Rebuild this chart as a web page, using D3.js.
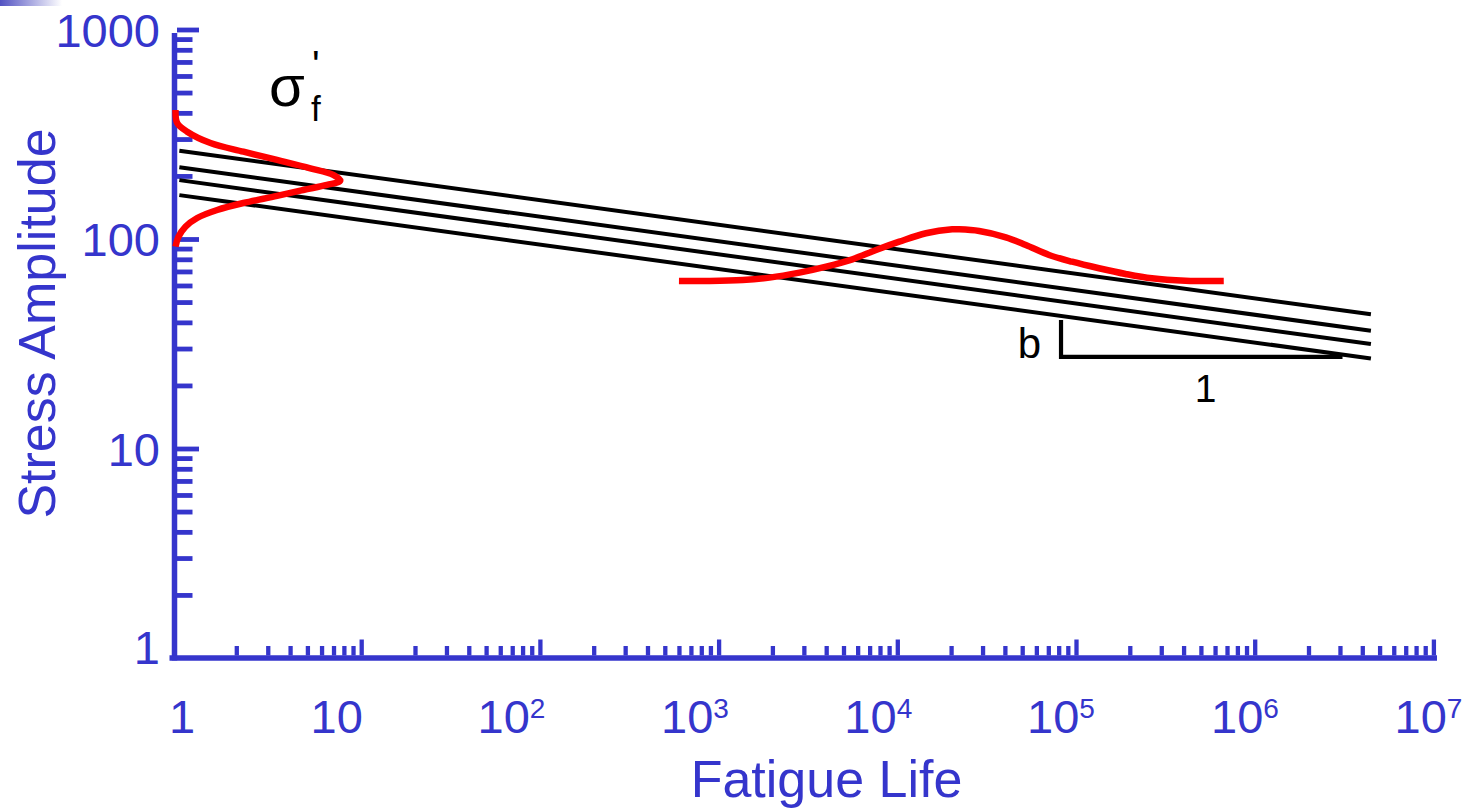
<!DOCTYPE html>
<html><head><meta charset="utf-8">
<script src="https://cdn.jsdelivr.net/npm/d3@7"></script>
<style>html,body{margin:0;padding:0;background:#fff}svg{display:block}</style>
</head><body>
<svg id="chart" width="1474" height="810"></svg>
<script>
// ---------- data ----------
const xTickValues = [1, 10, 100, 1e3, 1e4, 1e5, 1e6, 1e7];
const xTickBase   = ["1", "10", "10", "10", "10", "10", "10", "10"];
const xTickPower  = ["", "", "2", "3", "4", "5", "6", "7"];
const yTickValues = [1, 10, 100, 1000];
const yTickLabels = ["1", "10", "100", "1000"];

// four parallel S-N lines (start / end stress)
const lineLife        = [0.96, 4.47e6];
const lineStartStress = [264, 220, 191, 162];
const lineEndStress   = [43.7, 36.5, 31.5, 26.9];

// distribution of fatigue strength coefficient (left red curve)
const leftCurveLife   = [0.914, 0.934, 1.062, 1.434, 2.192, 3.381, 5.189, 6.978, 7.633, 6.433, 4.742, 3.381, 2.192, 1.563, 1.208, 1.039, 0.950, 0.914];
const leftCurveStress = [412.8, 357.8, 325.3, 287.2, 261.0, 238.4, 217.5, 202.1, 189.8, 181.1, 171.4, 160.5, 148.5, 137.5, 126.0, 114.5, 102.6, 91.9];

// distribution of life (right red curve)
const rightCurveLife   = [600, 891, 1362, 1927, 2835, 3997, 5606, 7603, 10260, 14467, 20290, 22200, 28720, 40490, 52360, 70670, 94990, 134500, 189500, 265800, 410100, 671200];
const rightCurveStress = [63.0, 63.0, 63.7, 65.4, 69.1, 73.8, 80.0, 88.6, 97.1, 106.5, 111.2, 111.2, 109.2, 101.9, 93.6, 83.9, 77.9, 72.5, 68.1, 64.9, 63.2, 63.0];

// slope triangle
const triangleLife   = [82450, 82450, 3.1e6];
const triangleStress = [41.1, 27.35, 27.35];

const xTitle = "Fatigue Life";
const yTitle = "Stress Amplitude";

// ---------- layout ----------
const BLUE = "#3535cc";
const FONT = "'Liberation Sans', Arimo, Arial, Helvetica, sans-serif";
const xLabelNudge = [-0.5, -24.5, -28.4, -23.6, -19, -15, -9.7, -4.9];
const yLabelNudge = [-11, 0, 0, 0];

const svg = d3.select("#chart");
const x = d3.scaleLog().domain([1, 1e7]).range([182.5, 1433.4]);
const y = d3.scaleLog().domain([1, 1000]).range([658, 29.5]);

// corner gradient artifact
const defs = svg.append("defs");
const grad = defs.append("linearGradient").attr("id", "cg");
grad.append("stop").attr("offset", "0").attr("stop-color", "#5252c2");
grad.append("stop").attr("offset", "1").attr("stop-color", "#ffffff");
svg.append("rect").attr("x", 0).attr("y", 0).attr("width", 62).attr("height", 6).attr("fill", "url(#cg)");

// ---------- axes ----------
const yAxisX = 174.5, xAxisY = 658;
const allY = y.ticks();
const majorY = allY.filter(v => yTickValues.includes(v) && v !== 1);
const minorY = allY.filter(v => !yTickValues.includes(v));
function styleTicks(g, w) {
  g.select(".domain").remove();
  g.selectAll(".tick line").attr("stroke", BLUE).attr("stroke-width", w);
  g.selectAll(".tick text").remove();
}
svg.append("g").attr("transform", `translate(${yAxisX + 2.5},0)`)
  .call(d3.axisRight(y).tickValues(minorY).tickSize(15.5).tickFormat(""))
  .call(g => styleTicks(g, 4.8));
svg.append("g").attr("transform", `translate(${yAxisX + 2.5},0)`)
  .call(d3.axisRight(y).tickValues(majorY).tickSize(22).tickFormat(""))
  .call(g => styleTicks(g, 4.8));

const allX = x.ticks();
const majorX = allX.filter(v => xTickValues.includes(v) && v !== 1);
const minorX = allX.filter(v => !xTickValues.includes(v));
svg.append("g").attr("transform", `translate(0,${xAxisY - 2.5})`)
  .call(d3.axisTop(x).tickValues(minorX).tickSize(9.5).tickFormat(""))
  .call(g => styleTicks(g, 4.3));
svg.append("g").attr("transform", `translate(0,${xAxisY - 2.5})`)
  .call(d3.axisTop(x).tickValues(majorX).tickSize(16).tickFormat(""))
  .call(g => styleTicks(g, 4.3));

// axis lines
svg.append("line").attr("x1", yAxisX).attr("x2", yAxisX).attr("y1", 33).attr("y2", xAxisY + 2.5)
  .attr("stroke", BLUE).attr("stroke-width", 5.5);
svg.append("line").attr("x1", yAxisX - 5).attr("x2", 1437).attr("y1", xAxisY).attr("y2", xAxisY)
  .attr("stroke", BLUE).attr("stroke-width", 5.5);

// tick labels
const xl = svg.append("g").attr("font-family", FONT).attr("fill", BLUE);
xTickValues.forEach((v, i) => {
  const t = xl.append("text").attr("x", x(v) + xLabelNudge[i]).attr("y", 733)
    .attr("text-anchor", "middle").attr("font-size", 47);
  t.append("tspan").text(xTickBase[i]);
  if (xTickPower[i]) t.append("tspan").attr("font-size", 28).attr("dy", -15).text(xTickPower[i]);
});
const yl = svg.append("g").attr("font-family", FONT).attr("fill", BLUE);
yTickValues.forEach((v, i) => {
  yl.append("text").attr("x", 160).attr("y", y(v) + 17 + yLabelNudge[i])
    .attr("text-anchor", "end").attr("font-size", 47).text(yTickLabels[i]);
});

// titles
svg.append("text").attr("x", 826.5).attr("y", 797).attr("text-anchor", "middle")
  .attr("font-family", FONT).attr("font-size", 52).attr("fill", BLUE).text(xTitle);
svg.append("text").attr("transform", "translate(55,323.5) rotate(-90)").attr("text-anchor", "middle")
  .attr("font-family", FONT).attr("font-size", 52).attr("fill", BLUE).text(yTitle);

// ---------- marks ----------
const lineGen = d3.line().x(d => x(d[0])).y(d => y(d[1]));
lineStartStress.forEach((s0, i) => {
  svg.append("path").attr("d", lineGen([[lineLife[0], s0], [lineLife[1], lineEndStress[i]]]))
    .attr("fill", "none").attr("stroke", "#000").attr("stroke-width", 4);
});

// slope triangle
svg.append("path").attr("d", lineGen(triangleLife.map((n, i) => [n, triangleStress[i]])))
  .attr("fill", "none").attr("stroke", "#000").attr("stroke-width", 4.2);

const curveGen = d3.line().x(d => x(d[0])).y(d => y(d[1])).curve(d3.curveCatmullRom.alpha(0.5));
svg.append("path").attr("d", curveGen(leftCurveLife.map((n, i) => [n, leftCurveStress[i]])))
  .attr("fill", "none").attr("stroke", "#ff0000").attr("stroke-width", 6.5);
svg.append("path").attr("d", curveGen(rightCurveLife.map((n, i) => [n, rightCurveStress[i]])))
  .attr("fill", "none").attr("stroke", "#ff0000").attr("stroke-width", 6.5);

// annotations
svg.append("text").attr("x", 1041).attr("y", 358).attr("text-anchor", "end")
  .attr("font-family", FONT).attr("font-size", 42).attr("fill", "#000").text("b");
svg.append("text").attr("x", 1205.5).attr("y", 401.5).attr("text-anchor", "middle")
  .attr("font-family", FONT).attr("font-size", 39).attr("fill", "#000").text("1");
const sig = svg.append("g").attr("font-family", FONT).attr("fill", "#000");
sig.append("text").attr("x", 269).attr("y", 106).attr("font-size", 58).text("σ");
sig.append("text").attr("x", 311).attr("y", 120.7).attr("font-size", 35).text("f");
sig.append("text").attr("x", 312).attr("y", 79).attr("font-size", 40).text("'");
</script>
</body></html>
